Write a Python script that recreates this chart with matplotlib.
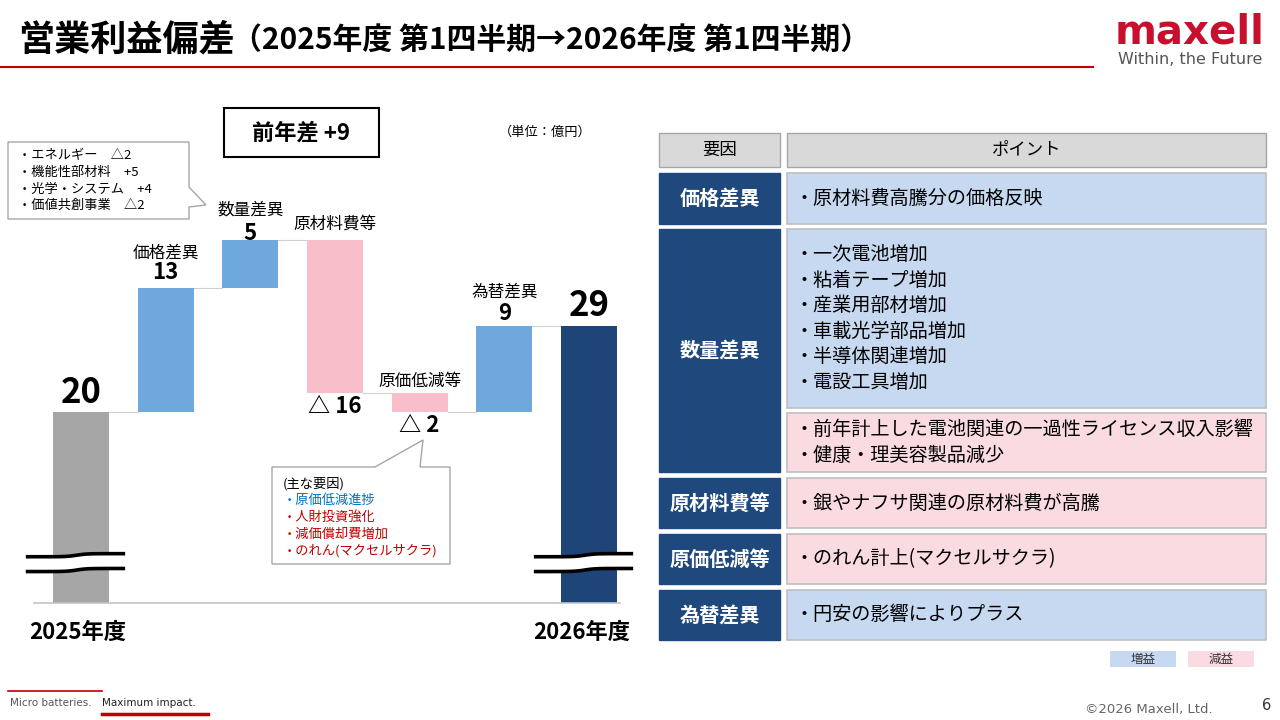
import numpy as np
import matplotlib
matplotlib.use("Agg")
import matplotlib.pyplot as plt
from matplotlib.patches import Rectangle, Polygon

plt.rcParams['font.family'] = ['Noto Sans CJK JP', 'DejaVu Sans']

# ---- data ----
categories = ['2025年度', '価格差異', '数量差異', '原材料費等', '原価低減等', '為替差異', '2026年度']
start_value = 20
deltas = [13, 5, -16, -2, 9]
end_value = 29
diff_label = '前年差 +9'

callout1_lines = ['・エネルギー　△2', '・機能性部材料　+5', '・光学・システム　+4', '・価値共創事業　△2']
callout2_lines = ['(主な要因)', '・原価低減進捗', '・人財投資強化', '・減価償却費増加', '・のれん(マクセルサクラ)']
callout2_kind = ['none', 'inc', 'dec', 'dec', 'dec']

table_header = ['要因', 'ポイント']
table_factors = ['価格差異', '数量差異', '原材料費等', '原価低減等', '為替差異']
table_points = [
    [['・原材料費高騰分の価格反映']],
    [['・一次電池増加', '・粘着テープ増加', '・産業用部材増加', '・車載光学部品増加', '・半導体関連増加', '・電設工具増加'],
     ['・前年計上した電池関連の一過性ライセンス収入影響', '・健康・理美容製品減少']],
    [['・銀やナフサ関連の原材料費が高騰']],
    [['・のれん計上(マクセルサクラ)']],
    [['・円安の影響によりプラス']],
]
table_kinds = [['inc'], ['inc', 'dec'], ['dec'], ['dec'], ['inc']]
legend_labels = ['増益', '減益']

# ---- styles ----
c_start = '#A6A6A6'
c_end = '#1F4478'
c_inc = '#6FA8DC'
c_dec = '#F8BFCB'
c_navy = '#1F497D'
c_tinc = '#C6D9F0'
c_tdec = '#FADBE2'
c_red = '#C00000'

fig = plt.figure(figsize=(12.8, 7.2), dpi=100)

# waterfall chart
ax = fig.add_axes([40 / 1280, 117 / 720, 590 / 1280, 478 / 720])
ax.set_xlim(-0.484, 6.484)
ax.set_ylim(0, 50)
ax.axis('off')

w = 0.66
x = np.arange(len(categories))
levels = [start_value]
for d in deltas:
    levels.append(levels[-1] + d)

ax.bar(x[0], start_value, w, color=c_start, zorder=2)
ax.bar(x[-1], end_value, w, color=c_end, zorder=2)
for i, d in enumerate(deltas):
    prev = levels[i]
    ax.bar(x[i + 1], abs(d), w, bottom=min(prev, prev + d),
           color=c_inc if d > 0 else c_dec, zorder=2)

# connectors: running total after each bar
for i in range(len(categories) - 1):
    ax.plot([x[i] + w / 2, x[i + 1] - w / 2], [levels[i], levels[i]],
            color='#D0D0D0', lw=0.8, zorder=1)

ax.plot([-0.55, 6.37], [0, 0], color='#BFC5CC', lw=1.2, zorder=3, clip_on=False)

# labels
name_off = [None, 34, 30, 16, 11, 34, None]
value_off = [19, 15, 6, -14, -14, 12, 20]
values_all = [start_value] + deltas + [end_value]
for i, v in enumerate(values_all):
    if i == 0 or i == len(values_all) - 1:
        ax.annotate(str(v), (x[i], v), xytext=(0, value_off[i]), textcoords='offset pixels',
                    ha='center', va='center', fontsize=25, fontweight='bold')
        continue
    prev = levels[i - 1]
    top = max(prev, prev + v)
    bot = min(prev, prev + v)
    ax.annotate(categories[i], (x[i], top), xytext=(0, name_off[i]), textcoords='offset pixels',
                ha='center', va='center', fontsize=12)
    if v > 0:
        ax.annotate(str(v), (x[i], top), xytext=(0, value_off[i]), textcoords='offset pixels',
                    ha='center', va='center', fontsize=16, fontweight='bold')
    else:
        ax.annotate('△ ' + str(abs(v)), (x[i], bot), xytext=(0, value_off[i]), textcoords='offset pixels',
                    ha='center', va='center', fontsize=16, fontweight='bold')

ax.annotate(categories[0], (x[0], 0), xytext=(-3, -29), textcoords='offset pixels',
            ha='center', va='center', fontsize=16, fontweight='bold')
ax.annotate(categories[-1], (x[-1], 0), xytext=(-7, -29), textcoords='offset pixels',
            ha='center', va='center', fontsize=16, fontweight='bold')

# axis break marks
t = np.linspace(-0.63, 0.5, 60)
wave = 0.16 * np.tanh((t + 0.05) / 0.12)
for xi in (x[0], x[-1]):
    lo = 3.45 + wave
    hi = 5.0 + wave
    ax.fill_between(xi + t, lo, hi, color='white', zorder=4, clip_on=False)
    ax.plot(xi + t, lo, color='black', lw=2.6, zorder=5, clip_on=False)
    ax.plot(xi + t, hi, color='black', lw=2.6, zorder=5, clip_on=False)

# slide decoration layer (pixel coordinates)
d = fig.add_axes([0, 0, 1, 1])
d.set_xlim(0, 1280)
d.set_ylim(720, 0)
d.axis('off')
d.patch.set_alpha(0)

d.text(18, 40, '営業利益偏差', fontsize=26, fontweight='bold', va='center')
d.text(232, 40, '（2025年度 第1四半期→2026年度 第1四半期）', fontsize=21.5, fontweight='bold', va='center')
d.plot([0, 1093], [67, 67], color=c_red, lw=1.5)
d.text(1190, 33, 'maxell', fontsize=29, fontweight='bold', color='#C8102E', ha='center', va='center',
       family='DejaVu Sans')
d.text(1190, 60, 'Within, the Future', fontsize=11.5, color='#555555', ha='center', va='center',
       family='DejaVu Sans')

# footer
d.plot([8, 102], [691, 691], color=c_red, lw=1.2)
d.plot([102, 208], [714, 714], color=c_red, lw=2.5)
d.text(10, 703, 'Micro batteries.', fontsize=7.5, color='#555555', va='center', family='DejaVu Sans')
d.text(102, 703, 'Maximum impact.', fontsize=7.5, color='#222222', va='center', family='DejaVu Sans')
d.text(1085, 710, '©2026 Maxell, Ltd.', fontsize=9.5, color='#666666', va='center', family='DejaVu Sans')
d.text(1262, 706, '6', fontsize=10.5, color='#333333', va='center', family='DejaVu Sans')

# difference box and unit
d.add_patch(Rectangle((224, 108), 155, 49, fill=False, ec='black', lw=1.5))
d.text(301, 133, diff_label, fontsize=16, fontweight='bold', ha='center', va='center')
d.text(545, 132, '（単位：億円）', fontsize=9.5, ha='center', va='center')

# callouts
d.add_patch(Polygon([(8, 142), (189, 142), (189, 187), (206, 205), (189, 207), (189, 219), (8, 219)],
                    closed=True, fc='white', ec='#A6A6A6', lw=1))
for k, line in enumerate(callout1_lines):
    d.text(18, 156 + k * 16.5, line, fontsize=9.5, va='center')

d.add_patch(Polygon([(272, 467), (375, 467), (423, 440), (420, 467), (450, 467), (450, 564), (272, 564)],
                    closed=True, fc='white', ec='#A6A6A6', lw=1))
kind_color = {'none': 'black', 'inc': '#0070C0', 'dec': c_red}
for k, line in enumerate(callout2_lines):
    d.text(283, 484 + k * 16.8, line, fontsize=9.5, va='center', color=kind_color[callout2_kind[k]])

# table
lx0, lx1, rx0, rx1 = 659, 780, 787, 1266
d.add_patch(Rectangle((lx0, 133), lx1 - lx0, 34, fc='#D9D9D9', ec='#A6A6A6', lw=1))
d.add_patch(Rectangle((rx0, 133), rx1 - rx0, 34, fc='#D9D9D9', ec='#A6A6A6', lw=1))
d.text((lx0 + lx1) / 2, 150, table_header[0], fontsize=12.5, ha='center', va='center')
d.text((rx0 + rx1) / 2, 150, table_header[1], fontsize=12.5, ha='center', va='center')

sub_rows = [[(173, 224)], [(229, 408), (413, 472)], [(478, 528)], [(534, 584)], [(590, 640)]]
for r, factor in enumerate(table_factors):
    y0 = sub_rows[r][0][0]
    y1 = sub_rows[r][-1][1]
    d.add_patch(Rectangle((lx0, y0), lx1 - lx0, y1 - y0, fc=c_navy, ec=c_navy, lw=1))
    d.text((lx0 + lx1) / 2, (y0 + y1) / 2, factor, fontsize=14.5, fontweight='bold',
           color='white', ha='center', va='center')
    for s, (sy0, sy1) in enumerate(sub_rows[r]):
        fc = c_tinc if table_kinds[r][s] == 'inc' else c_tdec
        d.add_patch(Rectangle((rx0, sy0), rx1 - rx0, sy1 - sy0, fc=fc, ec='#BFBFBF', lw=1.2))
        lines = table_points[r][s]
        gap = 25.5
        cy = (sy0 + sy1) / 2 - gap * (len(lines) - 1) / 2
        for k, line in enumerate(lines):
            d.text(794, cy + k * gap, line, fontsize=13.8, va='center')

# legend
for (bx, lab, fc) in [(1110, legend_labels[0], c_tinc), (1188, legend_labels[1], c_tdec)]:
    d.add_patch(Rectangle((bx, 651), 66, 16, fc=fc, ec='none'))
    d.text(bx + 33, 659.5, lab, fontsize=9, ha='center', va='center', color='#333333')

fig.savefig('out.png', dpi=100)
